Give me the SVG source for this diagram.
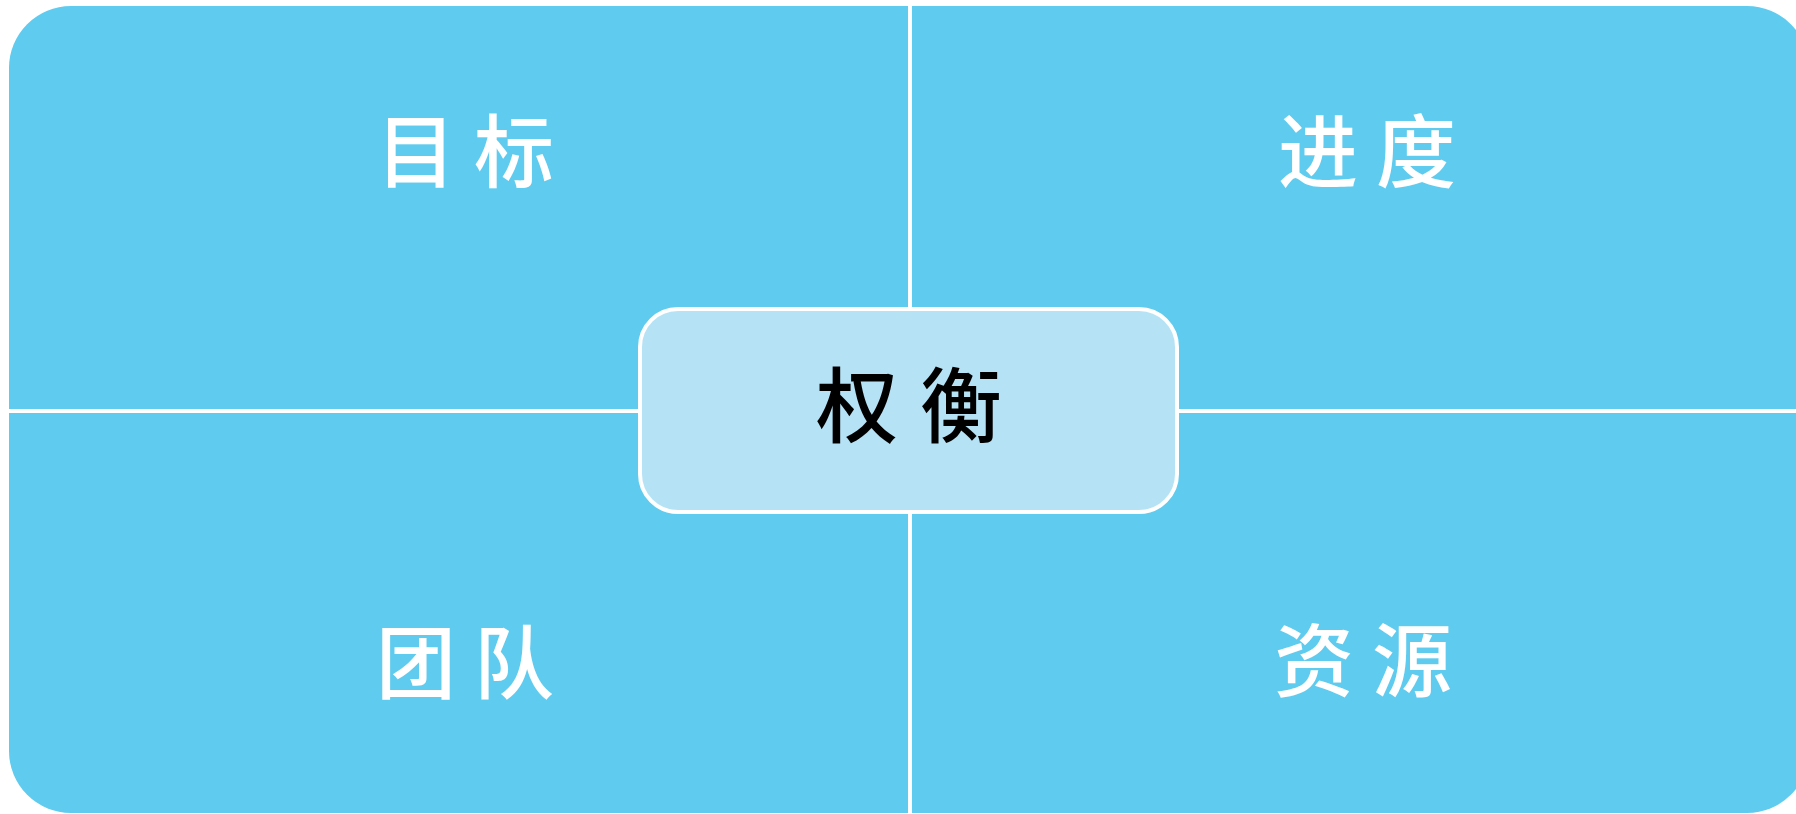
<svg xmlns="http://www.w3.org/2000/svg" width="1796" height="814" viewBox="0 0 1796 814">
<style>
.quad{fill:#5ECBEF;}
.qtext{font-family:"Noto Sans CJK SC","Noto Sans",sans-serif;font-size:80px;font-weight:500;fill:#FFFFFF;text-anchor:middle;letter-spacing:18px;}
.ctext{font-family:"Noto Sans CJK SC","Noto Sans",sans-serif;font-size:82px;font-weight:500;fill:#000000;text-anchor:middle;letter-spacing:22px;}
.center{fill:#B5E3F5;stroke:#FFFFFF;stroke-width:4;}
</style>
<rect width="1796" height="814" fill="#FFFFFF"/>
<g id="quad-goal">
<path class="quad" d="M9,68 A62,62 0 0 1 71,6 L908,6 L908,409 L9,409 Z"/>
<text class="qtext" x="474" y="181">目标</text>
</g>
<g id="quad-progress">
<path class="quad" d="M912,6 L1747,6 A62,62 0 0 1 1809,68 L1809,409 L912,409 Z"/>
<text class="qtext" x="1376" y="181">进度</text>
</g>
<g id="quad-team">
<path class="quad" d="M9,413 L908,413 L908,813 L71,813 A62,62 0 0 1 9,751 Z"/>
<text class="qtext" x="474" y="692">团队</text>
</g>
<g id="quad-resource">
<path class="quad" d="M912,413 L1809,413 L1809,751 A62,62 0 0 1 1747,813 L912,813 Z"/>
<text class="qtext" x="1372" y="690">资源</text>
</g>
<g id="connectors"></g>
<g id="center-balance">
<rect class="center" x="640" y="309" width="537" height="203" rx="38" ry="38"/>
<text class="ctext" x="920" y="436">权衡</text>
</g>
</svg>
